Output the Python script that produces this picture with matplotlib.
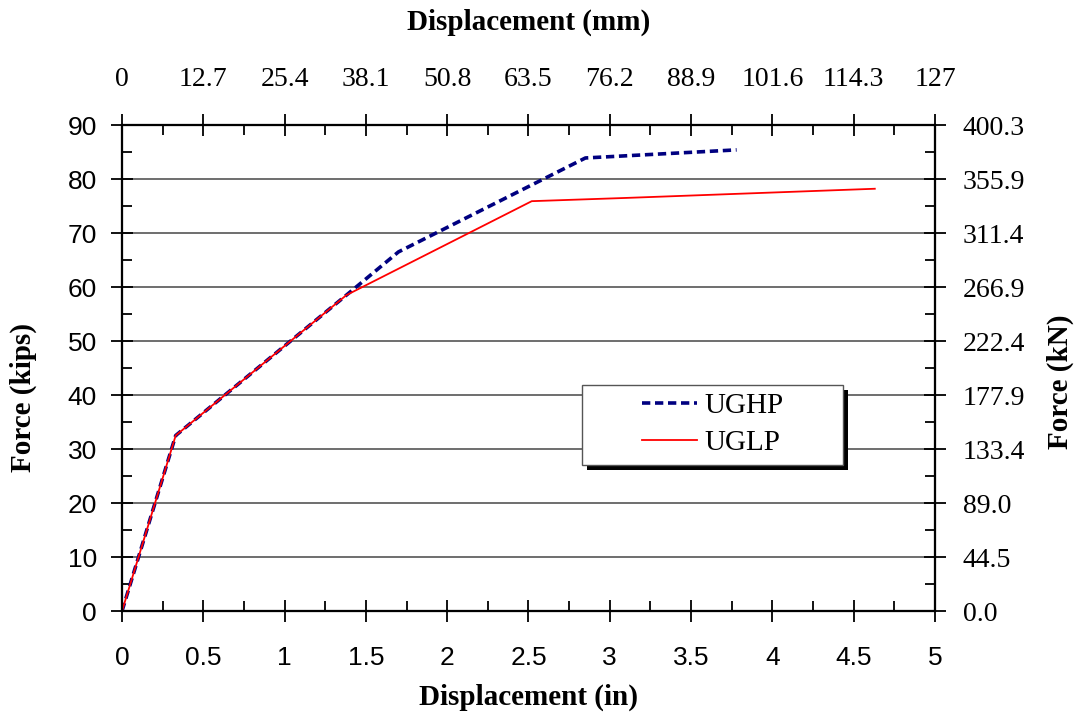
import matplotlib
matplotlib.use("Agg")
import matplotlib.pyplot as plt
from matplotlib.ticker import MultipleLocator, FixedLocator, FixedFormatter
from matplotlib.patches import Rectangle

# Data (displacement in inches, force in kips)
ughp_disp = [0.0, 0.33, 1.38, 1.70, 2.85, 3.78]
ughp_force = [0.0, 32.5, 58.5, 66.5, 83.9, 85.4]
uglp_disp = [0.0, 0.33, 1.38, 2.52, 3.10, 4.63]
uglp_force = [0.0, 32.5, 58.5, 75.9, 76.5, 78.2]

bottom_ticks = [0, 0.5, 1, 1.5, 2, 2.5, 3, 3.5, 4, 4.5, 5]
bottom_labels = ["0", "0.5", "1", "1.5", "2", "2.5", "3", "3.5", "4", "4.5", "5"]
top_labels = ["0", "12.7", "25.4", "38.1", "50.8", "63.5", "76.2", "88.9", "101.6", "114.3", "127"]
left_ticks = [0, 10, 20, 30, 40, 50, 60, 70, 80, 90]
right_labels = ["0.0", "44.5", "89.0", "133.4", "177.9", "222.4", "266.9", "311.4", "355.9", "400.3"]

serif = ["Liberation Serif", "DejaVu Serif"]
sans = ["Liberation Sans", "DejaVu Sans"]

fig = plt.figure(figsize=(10.78, 7.19), dpi=100)
ax = fig.add_axes([0.1132, 0.1502, 0.7541, 0.6759])

for y in left_ticks[1:-1]:
    ax.axhline(y, color="#555555", lw=1.2, zorder=1)

l1, = ax.plot(ughp_disp, ughp_force, color="#000080", lw=2.6, ls=(0, (2.3, 1.3)), label="UGHP", zorder=3)
l2, = ax.plot(uglp_disp, uglp_force, color="#ff0000", lw=1.3, label="UGLP", zorder=4)

ax.set_xlim(0, 5)
ax.set_ylim(0, 90)

ax.xaxis.set_major_locator(FixedLocator(bottom_ticks))
ax.xaxis.set_major_formatter(FixedFormatter(bottom_labels))
ax.xaxis.set_minor_locator(MultipleLocator(0.25))
ax.yaxis.set_major_locator(FixedLocator(left_ticks))
ax.yaxis.set_minor_locator(MultipleLocator(5))
ax.tick_params(axis="both", which="major", direction="inout", length=16, width=1.3, labelsize=19)
ax.tick_params(axis="x", which="major", pad=17)
ax.tick_params(axis="y", which="major", pad=10)
ax.tick_params(axis="both", which="minor", direction="in", length=7, width=1.3)
for lab in ax.get_xticklabels() + ax.get_yticklabels():
    lab.set_family(sans)

for s in ax.spines.values():
    s.set_linewidth(1.5)
    s.set_color("black")

ax.set_xlabel("Displacement (in)", fontsize=21, fontweight="bold", family=serif)
ax.xaxis.set_label_coords(0.5, (611 - 697) / 486)
ax.xaxis.label.set_va("center")
ax.set_ylabel("Force (kips)", fontsize=21, fontweight="bold", family=serif)
ax.yaxis.set_label_coords((23 - 122) / 813, 0.44)
ax.yaxis.label.set_va("center")

# Top axis (mm)
axt = ax.twiny()
axt.set_xlim(0, 5)
axt.xaxis.set_major_locator(FixedLocator(bottom_ticks))
axt.xaxis.set_major_formatter(FixedFormatter(top_labels))
axt.xaxis.set_minor_locator(MultipleLocator(0.25))
axt.tick_params(axis="x", which="major", direction="inout", length=16, width=1.3, labelsize=20, pad=16)
axt.tick_params(axis="x", which="minor", direction="in", length=7, width=1.3)
for lab in axt.get_xticklabels():
    lab.set_family(serif)
axt.set_xlabel("Displacement (mm)", fontsize=21, fontweight="bold", family=serif)
axt.xaxis.set_label_coords(0.5, (611 - 22) / 486)
axt.xaxis.label.set_va("center")

# Right axis (kN)
axr = ax.twinx()
axr.set_ylim(0, 90)
axr.yaxis.set_major_locator(FixedLocator(left_ticks))
axr.yaxis.set_major_formatter(FixedFormatter(right_labels))
axr.yaxis.set_minor_locator(MultipleLocator(5))
axr.tick_params(axis="y", which="major", direction="inout", length=16, width=1.3, labelsize=20, pad=12)
axr.tick_params(axis="y", which="minor", direction="in", length=7, width=1.3)
for lab in axr.get_yticklabels():
    lab.set_family(serif)
axr.set_ylabel("Force (kN)", fontsize=21, fontweight="bold", family=serif)
axr.yaxis.set_label_coords((1060 - 122) / 813, 0.471)
axr.yaxis.label.set_va("center")
for a in (axr, axt):
    for s in a.spines.values():
        s.set_linewidth(1.5)

# Legend box with shadow
bx0, bx1 = (582 - 122) / 813, (843 - 122) / 813
by0, by1 = (611 - 465) / 486, (611 - 385) / 486
shadow = Rectangle((bx0 + 5 / 813, by0 - 5 / 486), bx1 - bx0, by1 - by0, transform=axr.transAxes,
                   facecolor="black", edgecolor="none", zorder=8)
box = Rectangle((bx0, by0), bx1 - bx0, by1 - by0, transform=axr.transAxes,
                facecolor="white", edgecolor="#555555", lw=1.0, zorder=9)
axr.add_patch(shadow)
axr.add_patch(box)
leg = axr.legend([l1, l2], ["UGHP", "UGLP"], loc="center",
                 bbox_to_anchor=((712.5 - 122) / 813, (611 - 424.5) / 486),
                 frameon=False, prop={"family": serif, "size": 21},
                 handlelength=1.9, borderpad=0, labelspacing=0.35, borderaxespad=0,
                 handletextpad=0.25)
leg.set_zorder(10)

fig.savefig("out.png", dpi=100, facecolor="white")
